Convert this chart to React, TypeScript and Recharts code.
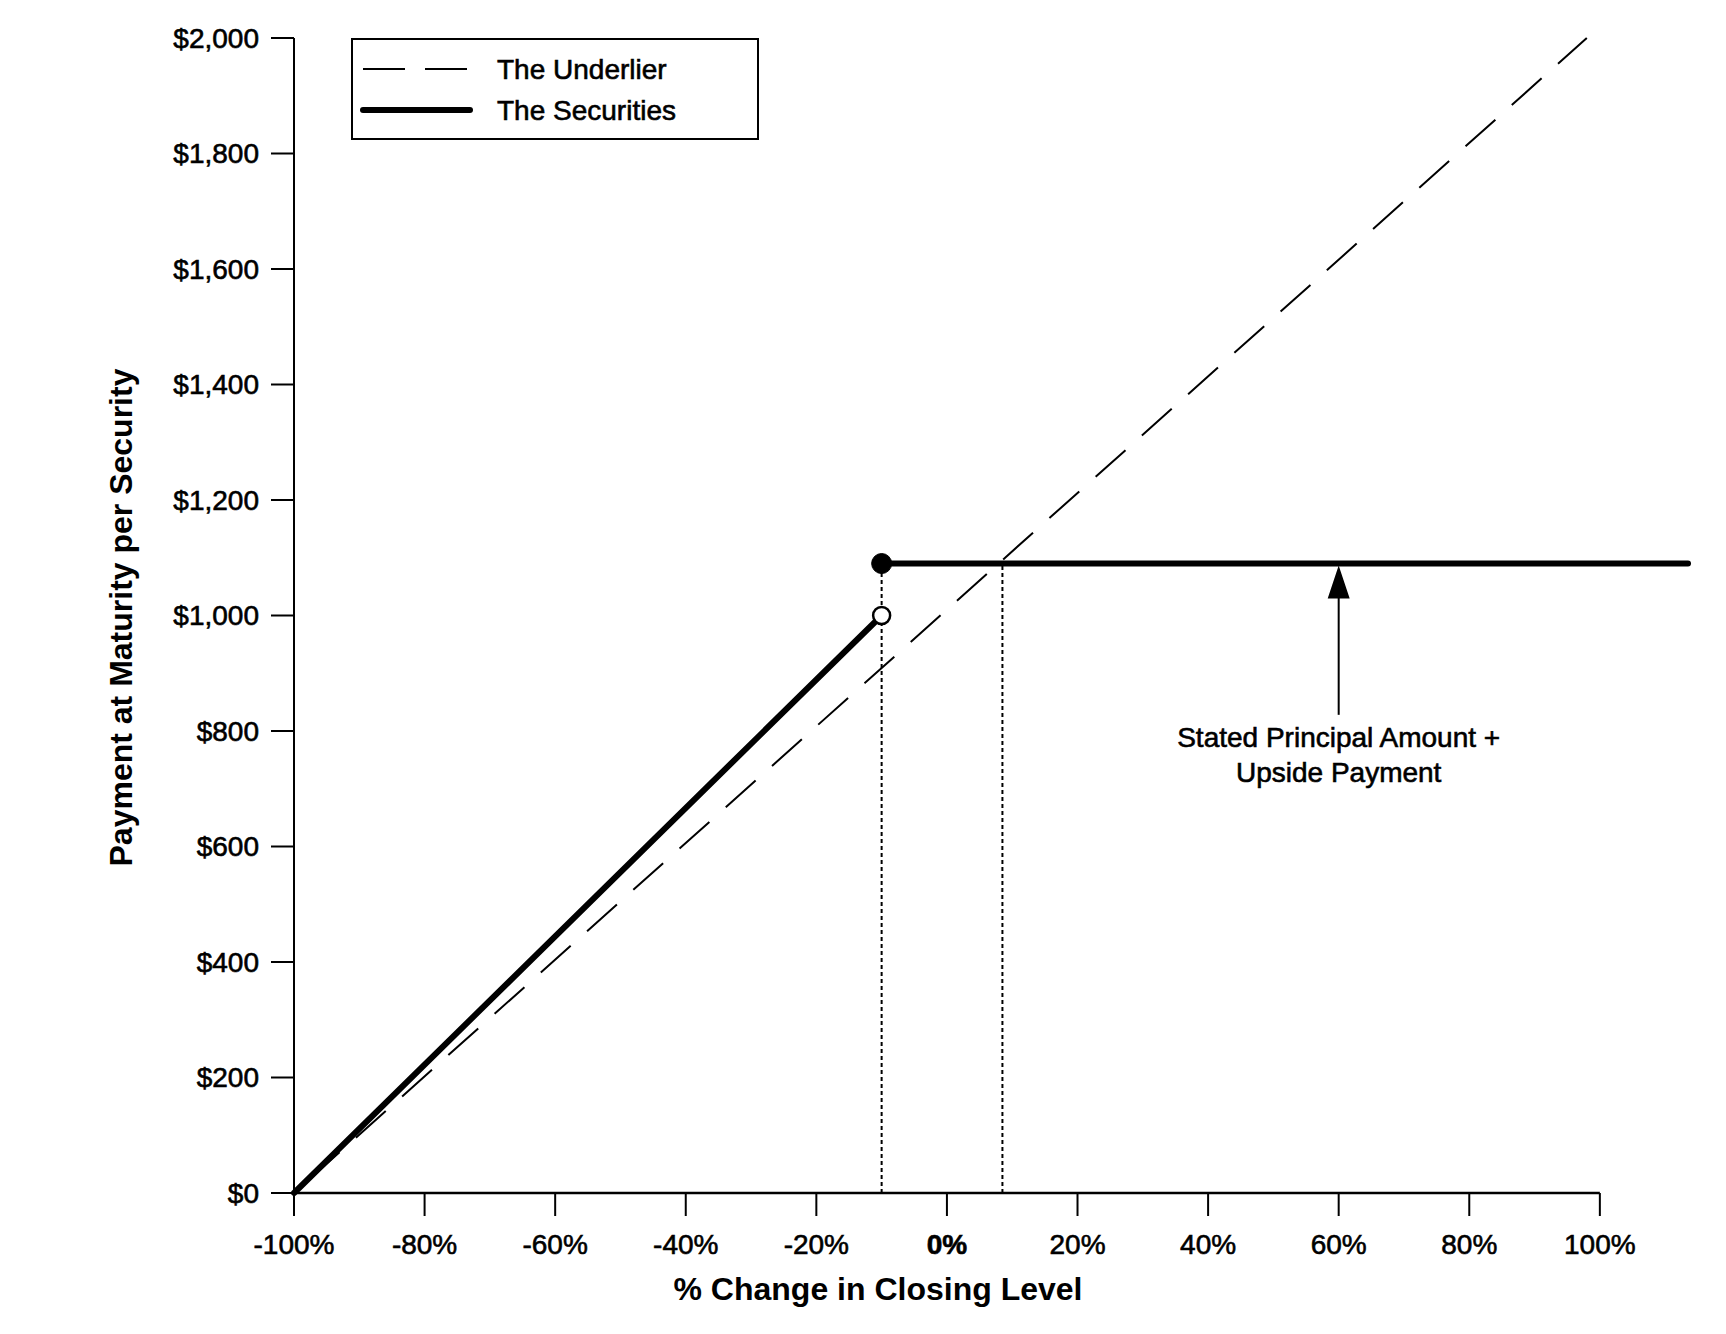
import React from "react";
import {
  LineChart,
  Line,
  XAxis,
  YAxis,
  ReferenceLine,
  ReferenceDot,
  Legend,
  Label,
} from "recharts";

const FONT = '"Liberation Sans", Arial, Helvetica, sans-serif';

// axis ticks
const xTicks = [-100, -80, -60, -40, -20, 0, 20, 40, 60, 80, 100];
const yTicks = [0, 200, 400, 600, 800, 1000, 1200, 1400, 1600, 1800, 2000];

// the underlier (dashed diagonal)
const underlierX = [-100, 98];
const underlierY = [0, 2000];

// the securities: two pieces with a jump at the threshold
const securitiesLowX = [-100, -10];
const securitiesLowY = [0, 1000];
const securitiesHighX = [-10, 113.5];
const securitiesHighY = [1090, 1090];

const thresholdX = -10;
const crossingX = 8.5;
const upsidePayment = 1090;
const arrowX = 60;
const arrowBottom = 828;
const noteY = 735;
const noteLines = ["Stated Principal Amount +", "Upside Payment"];

const legendItems = [
  { name: "The Underlier", width: 2, dash: "42 20" },
  { name: "The Securities", width: 6, dash: undefined },
];

const toPoints = (xs: number[], ys: number[]) =>
  xs.map((x, i) => ({ x, y: ys[i] }));

const underlier = toPoints(underlierX, underlierY);
const securitiesLow = toPoints(securitiesLowX, securitiesLowY);
const securitiesHigh = toPoints(securitiesHighX, securitiesHighY);

// a thin outline makes the regular text as heavy as the original
const heavy = { stroke: "#000", strokeWidth: 0.6 };

function XTick(props: any) {
  const { x, y, payload } = props;
  const v = payload.value;
  return (
    <text
      x={x}
      y={y}
      dy={30}
      textAnchor="middle"
      fontSize={28}
      fontFamily={FONT}
      fontWeight={v === 0 ? "bold" : "normal"}
      fill="#000"
      {...heavy}
    >
      {`${v}%`}
    </text>
  );
}

function LegendBox() {
  return (
    <div
      style={{
        width: 408,
        height: 102,
        border: "2px solid #000",
        boxSizing: "border-box",
        background: "#fff",
      }}
    >
      <svg width={404} height={98}>
        {legendItems.map((item, i) => {
          const cy = 29 + i * 41;
          return (
            <g key={item.name}>
              <line
                x1={10}
                x2={117}
                y1={cy}
                y2={cy}
                stroke="#000"
                strokeWidth={item.width}
                strokeDasharray={item.dash}
                strokeLinecap={item.dash ? "butt" : "round"}
              />
              <text
                x={144}
                y={cy + 10}
                fontSize={28}
                fontFamily={FONT}
                fill="#000"
                {...heavy}
              >
                {item.name}
              </text>
            </g>
          );
        })}
      </svg>
    </div>
  );
}

function ArrowHead(props: any) {
  const { cx, cy } = props;
  return (
    <path
      d={`M${cx},${cy + 2} L${cx - 11},${cy + 35} L${cx + 11},${cy + 35} Z`}
      fill="#000"
    />
  );
}

function Note(props: any) {
  const { cx, cy } = props;
  return (
    <text
      x={cx}
      y={cy}
      textAnchor="middle"
      fontSize={28}
      fontFamily={FONT}
      fill="#000"
      {...heavy}
    >
      {noteLines.map((t, i) => (
        <tspan key={t} x={cx} dy={i === 0 ? -22 : 35}>
          {t}
        </tspan>
      ))}
    </text>
  );
}

export default function App() {
  return (
    <div style={{ fontFamily: FONT, background: "#fff" }}>
      <LineChart
        width={1710}
        height={1310}
        margin={{ top: 30, right: 30, bottom: 0, left: 0 }}
      >
        <XAxis
          type="number"
          dataKey="x"
          domain={[-100, 113.5]}
          ticks={xTicks}
          interval={0}
          axisLine={false}
          tickSize={23}
          tickMargin={8}
          tickLine={{ stroke: "#000", strokeWidth: 2 }}
          tick={<XTick />}
          height={125}
        >
          <Label
            content={(p: any) => {
              const vb = p.viewBox || {};
              return (
                <text
                  x={vb.x + 584}
                  y={vb.y + 107}
                  textAnchor="middle"
                  fontSize={32}
                  fontWeight="bold"
                  fontFamily={FONT}
                  fill="#000"
                >
                  % Change in Closing Level
                </text>
              );
            }}
          />
        </XAxis>
        <YAxis
          type="number"
          domain={[0, 2000]}
          ticks={yTicks}
          interval={0}
          width={286}
          tickSize={23}
          tickMargin={12}
          axisLine={{ stroke: "#000", strokeWidth: 2 }}
          tickLine={{ stroke: "#000", strokeWidth: 2 }}
          tick={{ fontSize: 28, fill: "#000", fontFamily: FONT, ...heavy }}
          tickFormatter={(v: number) => `$${v.toLocaleString("en-US")}`}
        >
          <Label
            content={(p: any) => {
              const vb = p.viewBox || {};
              const x = 113;
              const y = vb.y + vb.height / 2 + 2;
              return (
                <text
                  x={x}
                  y={y}
                  transform={`rotate(-90 ${x} ${y})`}
                  textAnchor="middle"
                  dominantBaseline="central"
                  fontSize={32}
                  fontWeight="bold"
                  fontFamily={FONT}
                  fill="#000"
                >
                  Payment at Maturity per Security
                </text>
              );
            }}
          />
        </YAxis>

        <Legend
          layout="vertical"
          align="center"
          verticalAlign="middle"
          content={<LegendBox />}
          wrapperStyle={{ left: 343, top: 30, width: 408, height: 102 }}
        />

        {/* x axis line, stops at 100% */}
        <ReferenceLine
          segment={[
            { x: -100, y: 0 },
            { x: 100, y: 0 },
          ]}
          stroke="#000"
          strokeWidth={2.5}
          ifOverflow="visible"
        />

        {/* dotted drop lines */}
        <ReferenceLine
          segment={[
            { x: thresholdX, y: 0 },
            { x: thresholdX, y: upsidePayment },
          ]}
          stroke="#000"
          strokeWidth={2}
          strokeDasharray="4 3"
        />
        <ReferenceLine
          segment={[
            { x: crossingX, y: 0 },
            { x: crossingX, y: upsidePayment },
          ]}
          stroke="#000"
          strokeWidth={2}
          strokeDasharray="4 3"
        />

        <Line
          data={underlier}
          dataKey="y"
          type="linear"
          stroke="#000"
          strokeWidth={2}
          strokeDasharray="40 22"
          strokeDashoffset={41}
          dot={false}
          activeDot={false}
          isAnimationActive={false}
          name="The Underlier"
        />
        <Line
          data={securitiesLow}
          dataKey="y"
          type="linear"
          stroke="#000"
          strokeWidth={6}
          strokeLinecap="round"
          dot={false}
          activeDot={false}
          isAnimationActive={false}
          name="The Securities"
        />
        <Line
          data={securitiesHigh}
          dataKey="y"
          type="linear"
          stroke="#000"
          strokeWidth={6}
          strokeLinecap="round"
          dot={false}
          activeDot={false}
          isAnimationActive={false}
          legendType="none"
        />

        <ReferenceDot
          x={thresholdX}
          y={upsidePayment}
          r={10}
          fill="#000"
          stroke="#000"
          strokeWidth={1}
        />
        <ReferenceDot
          x={thresholdX}
          y={1000}
          r={8.5}
          fill="#fff"
          stroke="#000"
          strokeWidth={2.5}
        />

        {/* annotation arrow */}
        <ReferenceLine
          segment={[
            { x: arrowX, y: arrowBottom },
            { x: arrowX, y: upsidePayment - 50 },
          ]}
          stroke="#000"
          strokeWidth={2}
        />
        <ReferenceDot x={arrowX} y={upsidePayment} shape={<ArrowHead />} />
        <ReferenceDot x={arrowX} y={noteY} shape={<Note />} />
      </LineChart>
    </div>
  );
}
